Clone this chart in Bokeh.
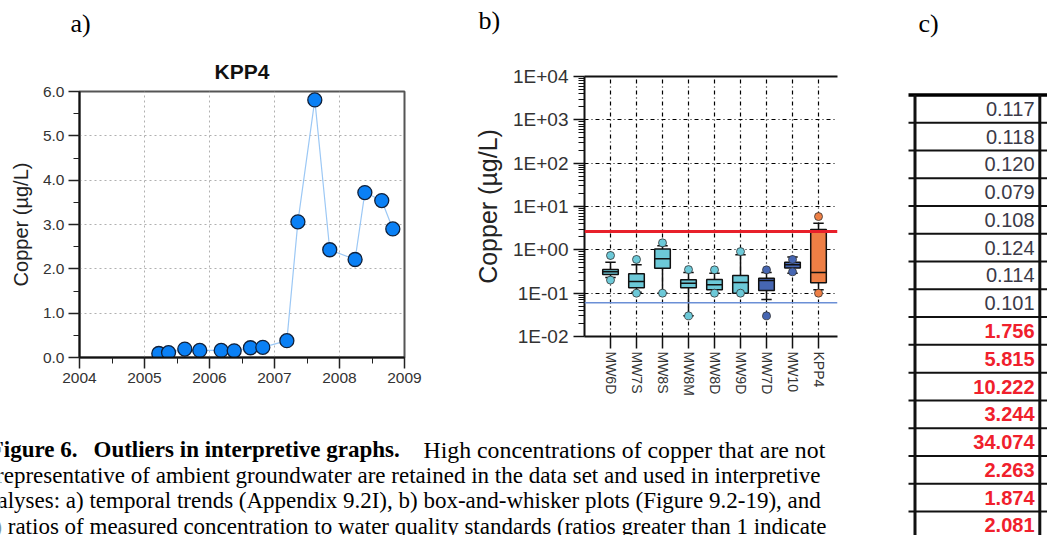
import math
from bokeh.plotting import figure
from bokeh.layouts import row, column
from bokeh.models import (Range1d, FixedTicker, SingleIntervalTicker, PrintfTickFormatter,
                          LinearAxis, Span, CustomJSTickFormatter)
from bokeh.embed import file_html
from bokeh.resources import INLINE
from bokeh.core.properties import value

# ---------------- data ----------------
# a) KPP4 temporal trend
kpp4_year = [2005.22, 2005.37, 2005.62, 2005.85, 2006.18, 2006.38, 2006.63, 2006.82,
             2007.19, 2007.36, 2007.62, 2007.85, 2008.24, 2008.39, 2008.65, 2008.82]
kpp4_copper = [0.09, 0.11, 0.19, 0.16, 0.16, 0.15, 0.22, 0.23,
               0.38, 3.06, 5.81, 2.43, 2.21, 3.72, 3.54, 2.90]

# b) box-and-whisker
wells = ["MW6D", "MW7S", "MW8S", "MW8M", "MW8D", "MW9D", "MW7D", "MW10", "KPP4"]
box_low_out = [0.20, 0.10, 0.10, 0.03, 0.10, 0.10, 0.03, 0.31, 0.10]
box_low_wh = [0.23, 0.105, 0.10, 0.03, 0.10, 0.10, 0.071, 0.29, 0.12]
box_q1 = [0.27, 0.133, 0.376, 0.133, 0.12, 0.10, 0.115, 0.38, 0.173]
box_med = [0.31, 0.186, 0.62, 0.17, 0.156, 0.176, 0.196, 0.45, 0.30]
box_q3 = [0.35, 0.28, 1.05, 0.203, 0.206, 0.255, 0.22, 0.52, 2.94]
box_up_wh = [0.52, 0.45, 1.25, 0.30, 0.29, 0.77, 0.30, 0.68, 4.1]
box_up_out = [0.74, 0.60, 1.45, 0.35, 0.345, 0.91, 0.345, 0.60, 5.86]
box_color = ["#6cc9d8", "#6cc9d8", "#6cc9d8", "#6cc9d8", "#6cc9d8", "#6cc9d8",
             "#4666b2", "#4666b2", "#ee7f45"]
standard_red = 2.64
detection_blue = 0.06
decades = [1e-2, 1e-1, 1e0, 1e1, 1e2, 1e3, 1e4]

# c) ratios table
ratios = [0.117, 0.118, 0.120, 0.079, 0.108, 0.124, 0.114, 0.101,
          1.756, 5.815, 10.222, 3.244, 34.074, 2.263, 1.874, 2.081]

caption_head = ["Figure 6.", "Outliers in interpretive graphs."]
caption_lines = [
    "High concentrations of copper that are not",
    "representative of ambient groundwater are retained in the data set and used in interpretive",
    "analyses:  a) temporal trends (Appendix 9.2I), b) box-and-whisker plots (Figure 9.2-19), and",
    "c) ratios of measured concentration to water quality standards (ratios greater than 1 indicate",
]

SANS = "Liberation Sans"
SERIF = "Liberation Serif"


def blank(w, h, xr, yr):
    f = figure(width=w, height=h, x_range=xr, y_range=yr, output_backend="svg",
               toolbar_location=None, title=None, x_axis_location=None, y_axis_location=None,
               min_border=0, frame_align=False)
    f.outline_line_color = None
    f.grid.visible = False
    return f


# ---------------- header of a) ----------------
ha = blank(450, 80, Range1d(0, 450), Range1d(80, 0))
ha.text(x=[70], y=[22.7], text=["a)"], text_font=value(SERIF), text_font_size="26px",
        text_baseline="middle", text_color="#000000")
ha.text(x=[241.5], y=[70.5], text=["KPP4"], text_font=value(SANS), text_font_size="21px",
        text_font_style="bold", text_align="center", text_baseline="middle", text_color="#111111")

# ---------------- a) ----------------
pa = figure(width=450, height=320, x_range=Range1d(2004, 2009), y_range=Range1d(0, 6),
            output_backend="svg", toolbar_location=None, title=None, frame_align=False,
            min_border_left=79, min_border_right=46, min_border_top=11, min_border_bottom=43)
pa.xaxis.ticker = SingleIntervalTicker(interval=1, num_minor_ticks=2)
pa.yaxis.ticker = SingleIntervalTicker(interval=1, num_minor_ticks=2)
pa.yaxis.formatter = PrintfTickFormatter(format="%.1f")
for ax in (pa.xaxis[0], pa.yaxis[0]):
    ax.major_tick_out = 11
    ax.major_tick_in = 0
    ax.minor_tick_out = 6
    ax.minor_tick_in = 0
    ax.axis_line_color = "#111111"
    ax.axis_line_width = 2
    ax.major_tick_line_color = "#222222"
    ax.minor_tick_line_color = "#222222"
    ax.major_tick_line_width = 1.5
    ax.major_label_text_font = SANS
    ax.major_label_text_font_size = "15.5px"
    ax.major_label_text_color = "#333333"
    ax.major_label_standoff = 4
pa.yaxis.axis_label = "Copper (µg/L)"
pa.yaxis.axis_label_text_font = SANS
pa.yaxis.axis_label_text_font_size = "20px"
pa.yaxis.axis_label_text_font_style = "normal"
pa.yaxis.axis_label_text_color = "#222222"
pa.yaxis.axis_label_standoff = 8
pa.grid.grid_line_color = "#b0b0b0"
pa.grid.grid_line_dash = "2 3"
pa.outline_line_color = "#555555"
pa.outline_line_width = 2
pa.line(kpp4_year, kpp4_copper, line_color="#9cc8f5", line_width=1.2)
pa.scatter(kpp4_year, kpp4_copper, size=14, fill_color="#0a80f5", line_color="#10203a", line_width=1.3)

# ---------------- header of b) ----------------
hb = blank(440, 60, Range1d(0, 440), Range1d(60, 0))
hb.text(x=[28], y=[19.5], text=["b)"], text_font=value(SERIF), text_font_size="26px",
        text_baseline="middle", text_color="#000000")

# ---------------- b) ----------------
xs = list(range(1, len(wells) + 1))
pb = figure(width=440, height=340, x_range=Range1d(0, 9.73), y_range=Range1d(0.01, 1e4),
            y_axis_type="log", output_backend="svg", toolbar_location=None, title=None,
            frame_align=False,
            min_border_left=134, min_border_right=53, min_border_top=16, min_border_bottom=64)
pb.outline_line_color = None
pb.xaxis.ticker = FixedTicker(ticks=xs)
pb.xaxis.major_label_overrides = {x: w for x, w in zip(xs, wells)}
pb.xaxis.major_label_orientation = -math.pi / 2
minor = [m * d for d in decades[:-1] for m in range(2, 10)]
pb.yaxis.ticker = FixedTicker(ticks=decades, minor_ticks=minor)
pb.yaxis.formatter = CustomJSTickFormatter(code="""
const e = Math.round(Math.log10(tick));
const a = Math.abs(e);
return "1E" + (e < 0 ? "-" : "+") + (a < 10 ? "0" : "") + a;
""")
for ax in (pb.xaxis[0], pb.yaxis[0]):
    ax.axis_line_color = "#111111"
    ax.axis_line_width = 2
    ax.major_tick_in = 0
    ax.minor_tick_in = 0
    ax.major_tick_line_color = "#111111"
    ax.minor_tick_line_color = "#111111"
    ax.major_tick_line_width = 1.5
    ax.major_label_text_font = SANS
    ax.major_label_text_color = "#333333"
pb.xaxis.major_tick_out = 12
pb.xaxis.minor_tick_out = 0
pb.xaxis.major_label_text_font_size = "14px"
pb.xaxis.major_label_standoff = 3
pb.yaxis.major_tick_out = 11
pb.yaxis.minor_tick_out = 6
pb.yaxis.major_label_text_font_size = "19px"
pb.yaxis.major_label_standoff = 5
pb.yaxis.axis_label = "Copper (µg/L)"
pb.yaxis.axis_label_text_font = SANS
pb.yaxis.axis_label_text_font_size = "25px"
pb.yaxis.axis_label_text_font_style = "normal"
pb.yaxis.axis_label_text_color = "#222222"
pb.yaxis.axis_label_standoff = 8
top_ax = LinearAxis(ticker=FixedTicker(ticks=[]), axis_line_width=2, axis_line_color="#111111",
                    major_tick_out=0, minor_tick_out=0, major_label_text_color=None)
pb.add_layout(top_ax, "above")
pb.grid.grid_line_color = "#000000"
pb.grid.grid_line_dash = "4 3 1 3"
pb.grid.grid_line_width = 1.2

cap_half = 0.2
box_half = 0.3
pb.segment(xs, box_q3, xs, box_up_wh, line_color="#111111", line_width=1.5)
pb.segment(xs, box_q1, xs, box_low_wh, line_color="#111111", line_width=1.5)
pb.segment([x - cap_half for x in xs], box_up_wh, [x + cap_half for x in xs], box_up_wh,
           line_color="#111111", line_width=1.5)
pb.segment([x - cap_half for x in xs], box_low_wh, [x + cap_half for x in xs], box_low_wh,
           line_color="#111111", line_width=1.5)
pb.vbar(x=xs, width=2 * box_half, bottom=box_q1, top=box_q3, fill_color=box_color,
        line_color="#111111", line_width=1.5)
pb.segment([x - box_half for x in xs], box_med, [x + box_half for x in xs], box_med,
           line_color="#111111", line_width=1.5)
pb.scatter(xs, box_up_out, size=8, fill_color=box_color, line_color="#333333", line_width=0.8)
pb.scatter(xs, box_low_out, size=8, fill_color=box_color, line_color="#333333", line_width=0.8)
pb.add_layout(Span(location=standard_red, dimension="width", line_color="#e8202a", line_width=3))
pb.add_layout(Span(location=detection_blue, dimension="width", line_color="#6b8fd6", line_width=1.5))

# ---------------- caption ----------------
pcap = blank(890, 135, Range1d(0, 890), Range1d(3.353, -1.941))
pcap.text(x=[77, 93], y=[0, 0], text=caption_head, text_font=value(SERIF), text_font_size="23px",
          text_font_style="bold", text_baseline="middle", text_align=["right", "left"],
          text_color="#000000")
pcap.text(x=[423], y=[0], text=caption_lines[:1], text_font=value(SERIF),
          text_font_size="23.8px", text_baseline="middle", text_color="#000000")
pcap.text(x=[820, 826, 826], y=[1, 2, 3], text=caption_lines[1:], text_font=value(SERIF),
          text_font_size="23px", text_baseline="middle", text_align="right",
          text_color="#000000")

# ---------------- c) ----------------
rows = list(range(len(ratios)))
pc = blank(157, 535, Range1d(0, 157), Range1d(15.367, -3.905))
seps = [r + 0.5 for r in rows]
pc.segment([18] * len(seps), seps, [157] * len(seps), seps, line_color="#111111", line_width=2)
pc.segment([18], [-0.5], [157], [-0.5], line_color="#000000", line_width=3.5)
pc.segment([24.5, 149.3], [-0.5, -0.5], [24.5, 149.3], [16, 16], line_color="#111111", line_width=3)
norm = [(r, f"{v:.3f}") for r, v in zip(rows, ratios) if v <= 1]
high = [(r, f"{v:.3f}") for r, v in zip(rows, ratios) if v > 1]
pc.text(x=[144] * len(norm), y=[r for r, _ in norm], text=[t for _, t in norm],
        text_align="right", text_baseline="middle", text_font=value(SANS),
        text_font_size="20px", text_color="#3a3a48")
pc.text(x=[144] * len(high), y=[r for r, _ in high], text=[t for _, t in high],
        text_align="right", text_baseline="middle", text_font=value(SANS),
        text_font_size="20px", text_font_style="bold", text_color="#f0202c")
pc.text(x=[28], y=[-3.076], text=["c)"], text_align="left", text_baseline="middle",
        text_font=value(SERIF), text_font_size="26px", text_color="#000000")

layout = row(column(row(column(ha, pa), column(hb, pb)), pcap), pc)
open("out.html", "w").write(file_html(layout, INLINE))
